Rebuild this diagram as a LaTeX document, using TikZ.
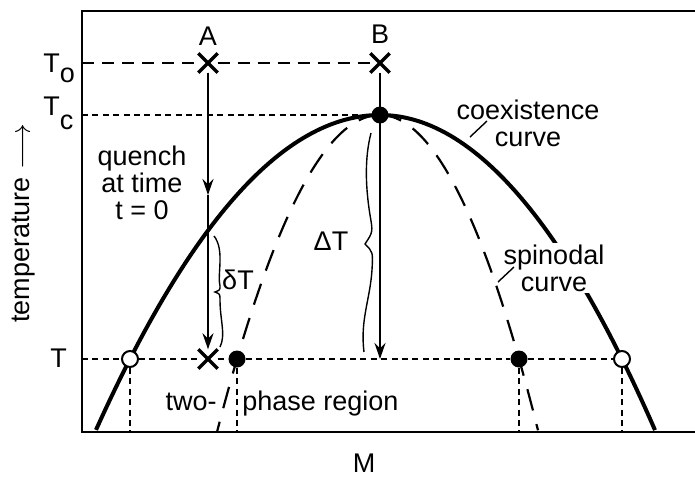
\documentclass[tikz,border=0pt]{standalone}
\usepackage{fontspec}
\setmainfont{Liberation Sans}
\usetikzlibrary{shapes,arrows.meta}
\tikzstyle{coexline} = [line width=2pt]
\tikzstyle{spinline} = [line width=1.1pt, dash pattern=on 11pt off 7pt]
\tikzstyle{longdash} = [line width=0.8pt, dash pattern=on 6pt off 4pt]
\tikzstyle{shortdash} = [line width=0.8pt, dash pattern=on 3pt off 2.2pt]
\tikzstyle{xcross} = [cross out, draw, line width=1.7pt, minimum size=8pt, inner sep=0pt]
\tikzstyle{fulldot} = [circle, fill=black, minimum size=8.5pt, inner sep=0pt]
\tikzstyle{opendot} = [circle, draw, fill=white, line width=1pt, minimum size=8pt, inner sep=0pt]
\tikzstyle{arrow} = [line width=0.8pt, -{Stealth[length=8pt,width=5.5pt]}]
\tikzstyle{thin} = [line width=0.7pt]

\begin{document}
\begin{tikzpicture}[x=0.5pt, y=-0.5pt, font=\fontsize{13.5}{13.5}\selectfont]
\useasboundingbox (0,0) rectangle (695,482);
% frame
\draw[line width=1.3pt] (695,11) -- (82,11) -- (82,432) -- (695,432);

% coexistence and spinodal curves
\draw[coexline] plot[domain=380:96, samples=60] (\x, {115+244*((\x-380)/250)^2});
\draw[coexline] plot[domain=380:655, samples=60] (\x, {115+244*((\x-380)/242)^2});
\draw[spinline] plot[domain=380:217, samples=60] (\x, {115+244*((\x-380)/143)^2});
\draw[spinline] plot[domain=380:538, samples=60] (\x, {115+244*((\x-380)/139)^2});

\coordinate (axTo) at (82,63);
\coordinate (axTc) at (82,115);
\coordinate (axT) at (82,359);
\coordinate (base) at (0,432);
\coordinate (Amid) at (208,195);
\coordinate (Bend) at (380,359);

\node (xA) [xcross] at (208,63) {};
\node (xB) [xcross] at (380,63) {};
\node (xA2) [xcross] at (208,359) {};
\node (crit) [fulldot] at (380,115) {};
\node (oL) [opendot] at (130,359) {};
\node (sL) [fulldot] at (237,359) {};
\node (sR) [fulldot] at (519,359) {};
\node (oR) [opendot] at (622,359) {};

\draw[longdash] (axTo) -- (xA) -- (xB);
\draw[shortdash] (axTc) -- (crit);
\draw[shortdash] (axT) -- (oL) -- (xA2) -- (sL) -- (sR) -- (oR);
\draw[shortdash] (oL) -- (oL |- base);
\draw[shortdash] (sL) -- (sL |- base);
\draw[shortdash] (sR) -- (sR |- base);
\draw[shortdash] (oR) -- (oR |- base);

\draw[arrow] (xA) -- (Amid);
\draw[arrow] (Amid) -- (xA2);
\draw[arrow] (xB) -- (Bend);

% wavy braces
\draw[thin] (214,236) .. controls (225,250) and (217,275) .. (220,286) .. controls (220,290) .. (215,292) .. controls (220,294) .. (220,300) .. controls (220,320) and (226,335) .. (220,347);
\draw[thin] (371,133) .. controls (364,160) and (366,190) .. (370,215) .. controls (373,232) .. (365,244) .. controls (373,252) .. (372,270) .. controls (370,300) and (360,320) .. (364,352);

% labels
\node (labA) at (208,36) {A};
\node (labB) at (380,34) {B};
\node (labTo) [anchor=base west, inner sep=0pt] at (43,72) {T\raisebox{-5pt}{o}};
\node (labTc) [anchor=base west, inner sep=0pt] at (43,115) {T\raisebox{-7pt}{c}};
\node (labT) [anchor=base west, inner sep=0pt] at (50,367) {T};
\node (quench) [align=center] at (142,183) {quench\\at time\\t = 0};
\node (dT) at (238,280) {δT};
\node (DT) at (331,241) {ΔT};
\node (coex) [align=center] at (528,123) {coexistence\\curve};
\coordinate (pc1) at (470,137);
\coordinate (pc2) at (487,121);
\draw[thin] (pc1) -- (pc2);
\node (spin) [align=center, fill=white, inner sep=1pt] at (554,268) {spinodal\\curve};
\coordinate (ps1) at (498,282);
\coordinate (ps2) at (514,267);
\draw[thin] (ps1) -- (ps2);
\node (two) [anchor=base east, inner sep=0pt] at (217,410) {two-};
\node (phase) [anchor=base west, inner sep=0pt] at (242,410) {phase region};
\node (M) at (364,463) {M};
\node (temp) [rotate=90] at (24,223) {temperature $\longrightarrow$};
\end{tikzpicture}
\end{document}
